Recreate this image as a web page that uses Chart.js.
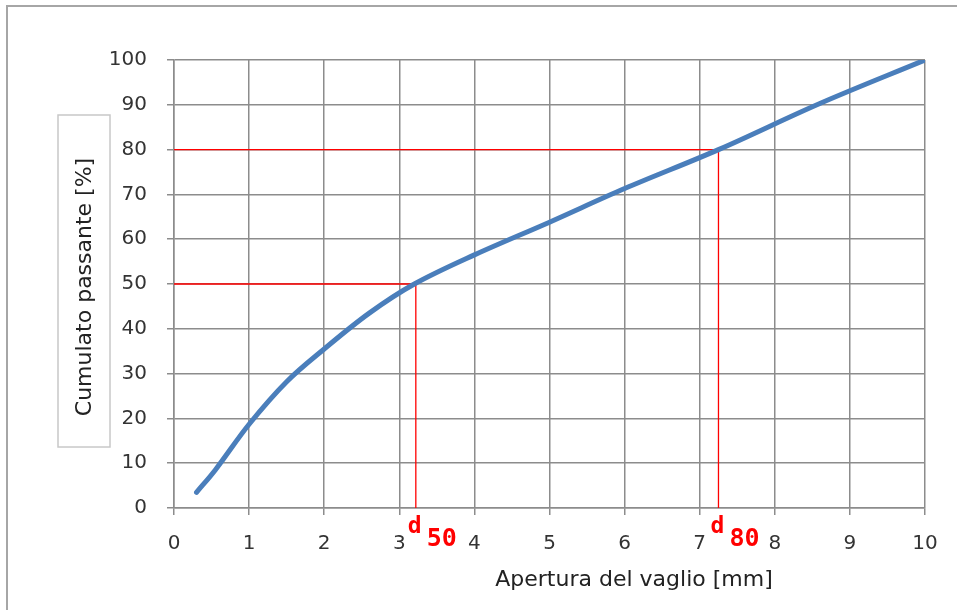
<!DOCTYPE html>
<html>
<head>
<script src="https://cdn.jsdelivr.net/npm/chart.js@4.4.1/dist/chart.umd.min.js"></script>
<style>
  body { margin: 0; background: #fff; }
  #wrap { width: 957px; height: 610px; }
</style>
</head>
<body>
<div id="wrap"><canvas id="granChart" width="957" height="610"></canvas></div>
<script>
// curva granulometrica
const apertura = [0.3, 0.55, 1.0, 1.5, 2.0, 2.6, 3.2, 4.0, 5.0, 6.0, 7.25, 8.6, 10]
const passante = [3.5, 8.5, 18.7, 28.2, 35.5, 43.5, 50, 56.5, 63.8, 71.3, 80, 90.3, 100]
const xTicks = [0, 1, 2, 3, 4, 5, 6, 7, 8, 9, 10]
const yTicks = [0, 10, 20, 30, 40, 50, 60, 70, 80, 90, 100]
// diametri caratteristici
const dLabels = ['50', '80']
const dPerc = [50, 80]
const dValues = [3.22, 7.25]

const titoloX = 'Apertura del vaglio [mm]'
const titoloY = 'Cumulato passante [%]'

const gridCol = '#8c8c8c'
const font = 'DejaVu Sans'

const curve = apertura.map((x, i) => ({ x: x, y: passante[i] }))
const refSets = dValues.map((d, i) => ({
    data: [{ x: 0, y: dPerc[i] }, { x: d, y: dPerc[i] }, { x: d, y: 0 }],
    borderColor: '#ff0000',
    borderWidth: 1.3,
    pointRadius: 0,
    showLine: true,
    tension: 0
}))

// cornice, box del titolo Y, titoli, etichette d50/d80
const decor = {
    id: 'decor',
    beforeDraw(chart) {
        const c = chart.ctx
        c.save()
        c.fillStyle = '#fff'
        c.fillRect(0, 0, chart.width, chart.height)
        c.strokeStyle = '#a6a6a6'
        c.lineWidth = 2
        c.strokeRect(7, 6, chart.width + 10, chart.height + 10)
        c.restore()
    },
    afterDraw(chart) {
        const c = chart.ctx
        const xs = chart.scales.x
        c.save()
        // titolo asse Y nel riquadro
        c.strokeStyle = '#c8c8c8'
        c.lineWidth = 1.5
        c.strokeRect(58, 115, 52, 332)
        c.translate(85, 287)
        c.rotate(-Math.PI / 2)
        c.fillStyle = '#222'
        c.font = '22px "' + font + '"'
        c.textAlign = 'center'
        c.textBaseline = 'middle'
        c.fillText(titoloY, 0, 0)
        c.restore()

        c.save()
        c.fillStyle = '#222'
        c.font = '22px "' + font + '"'
        c.textAlign = 'center'
        c.textBaseline = 'middle'
        c.fillText(titoloX, 634, 580)

        // d50, d80
        c.fillStyle = '#ff0000'
        c.textAlign = 'left'
        c.textBaseline = 'alphabetic'
        dValues.forEach((d, i) => {
            const px = xs.getPixelForValue(d)
            c.font = 'bold 23px "DejaVu Sans Mono"'
            c.fillText('d', px - 8, 533)
            c.font = 'bold 25px "DejaVu Sans Mono"'
            c.fillText(dLabels[i], px + 11, 546)
        })
        c.restore()
    }
}

new Chart(document.getElementById('granChart'), {
    type: 'scatter',
    data: {
        datasets: [{
            data: curve,
            borderColor: '#4a7ebb',
            borderWidth: 5,
            borderCapStyle: 'round',
            pointRadius: 0,
            showLine: true,
            tension: 0.35
        }].concat(refSets)
    },
    options: {
        responsive: false,
        animation: false,
        layout: { padding: { top: 60, right: 32, left: 0, bottom: 0 } },
        plugins: { legend: { display: false }, tooltip: { enabled: false } },
        scales: {
            x: {
                type: 'linear', min: 0, max: 10,
                afterBuildTicks: (s) => { s.ticks = xTicks.map(v => ({ value: v })) },
                afterFit: (s) => { s.height = 102 },
                grid: { color: gridCol, lineWidth: 1.5, tickLength: 7, tickColor: gridCol },
                border: { color: gridCol, width: 1.5 },
                ticks: { color: '#333', font: { family: font, size: 20 }, padding: 17, maxRotation: 0 }
            },
            y: {
                min: 0, max: 100,
                afterBuildTicks: (s) => { s.ticks = yTicks.map(v => ({ value: v })) },
                afterFit: (s) => { s.width = 174 },
                grid: { color: gridCol, lineWidth: 1.5, tickLength: 7, tickColor: gridCol },
                border: { color: gridCol, width: 1.5 },
                ticks: { color: '#333', font: { family: font, size: 20 }, padding: 20 }
            }
        }
    },
    plugins: [decor]
})
</script>
</body>
</html>
